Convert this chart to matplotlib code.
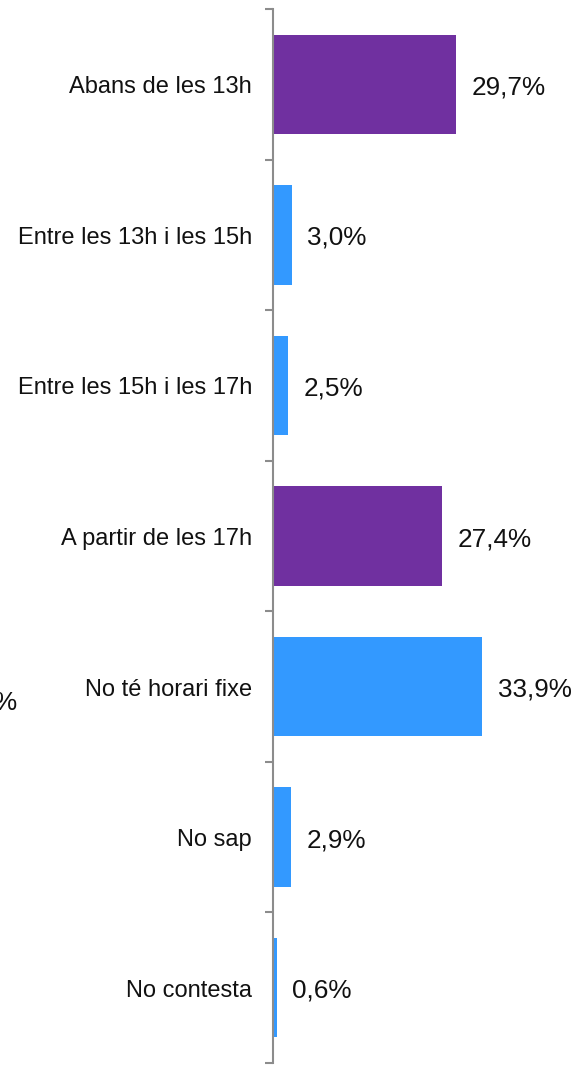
import matplotlib.pyplot as plt

plt.rcParams['font.family'] = ['Liberation Sans', 'DejaVu Sans']

categories = ['Abans de les 13h', 'Entre les 13h i les 15h', 'Entre les 15h i les 17h',
              'A partir de les 17h', 'No té horari fixe', 'No sap', 'No contesta']
values = [29.7, 3.0, 2.5, 27.4, 33.9, 2.9, 0.6]
colors = ['#7030A0', '#3399FF', '#3399FF', '#7030A0', '#3399FF', '#3399FF', '#3399FF']

W, H = 580, 1072
fig = plt.figure(figsize=(W / 100, H / 100), dpi=100)
ax = fig.add_axes([273 / W, 1 - 1063 / H, 310 / W, (1063 - 9) / H])

y = list(range(len(categories)))
ax.barh(y, values, height=0.66, color=colors)
ax.set_ylim(len(categories) - 0.5, -0.5)
ax.set_xlim(0, 50.2)

for yi, v in zip(y, values):
    ax.text(v + 2.5, yi + 0.02, f'{v:.1f}'.replace('.', ',') + '%', va='center', ha='left',
            fontsize=18.8, color='#111111')

ax.set_yticks([i - 0.5 for i in range(len(categories) + 1)])
ax.set_yticklabels([])
ax.tick_params(axis='y', length=6, width=1.5, color='#8c8c8c', direction='out')
for yi, c in zip(y, categories):
    ax.text(-0.068, yi + 0.02, c, transform=ax.get_yaxis_transform(), ha='right', va='center',
            fontsize=17, color='#111111')

ax.set_xticks([])
for s in ['top', 'right', 'bottom']:
    ax.spines[s].set_visible(False)
ax.spines['left'].set_color('#8c8c8c')
ax.spines['left'].set_linewidth(1.5)

fig.text(16 / W, 1 - 703 / H, '%', ha='right', va='center', fontsize=18.8, color='#111111')

fig.savefig('out.png', dpi=100)
